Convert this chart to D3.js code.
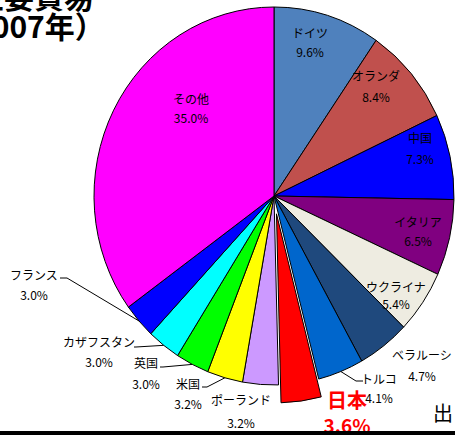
<!DOCTYPE html>
<html><head><meta charset="utf-8">
<script src="https://cdn.jsdelivr.net/npm/d3@7"></script>
<style>body{margin:0;background:#fff}svg{display:block}text{font-family:"Noto Sans CJK JP","Noto Sans",sans-serif}</style>
</head><body><svg id="c" width="455" height="435"></svg>
<script>
// Data
const countries = ["ドイツ","オランダ","中国","イタリア","ウクライナ","ベラルーシ","トルコ","日本","ポーランド","米国","英国","カザフスタン","フランス","その他"];
const shares = [9.6,8.4,7.3,6.5,5.4,4.7,4.1,3.6,3.2,3.2,3.0,3.0,3.0,35.0];
const colors = ["#4F81BD","#C0504D","#0000FF","#800080","#EEECE1","#1F497D","#0066CC","#FF0000","#CC99FF","#FFFF00","#00FF00","#00FFFF","#0000FF","#FF00FF"];
const titleLines = ["ロシアの主要貿易","（2007年）"];
// Layout (label centres, leader elbows)
const labelPos = [[310,32,51],[376,75,96],[420,137,158],[418,221,240],[396,286,303],[422,354,375],[379,378,397],[347,399,424],[241,399,422],[188,383,403],[146,362,383],[99,341,361],[34,274,294],[191,98,117]];
const leaders = {6:[[356,381],[363,381]],9:[[207,387],[202,387]],10:[[163,367],[160,367]],11:[[136,347],[134,347]],12:[[67,278],[60,278]]};

const svg = d3.select("#c");
const cx=274, cy=196, rx=180, ry=189, k=ry/rx, explode=18;
const pie = d3.pie().sort(null).value(d=>d)(shares);
const arc = d3.arc().innerRadius(0).outerRadius(rx);

// title
svg.append("text").attr("x",94).attr("y",8).attr("text-anchor","end")
  .attr("font-size",30).attr("font-weight","bold").text(titleLines[0]);
svg.append("text").attr("x",-56).attr("y",38)
  .attr("font-size",30).attr("font-weight","bold").text(titleLines[1]);

pie.forEach((p,i)=>{
  const mid=(p.startAngle+p.endAngle)/2;
  const dx = i===7 ? Math.sin(mid)*explode : 0;
  const dy = i===7 ? -Math.cos(mid)*explode : 0;
  svg.append("path").attr("d",arc(p))
    .attr("transform",`translate(${cx+dx},${cy+dy}) scale(1,${k})`)
    .attr("fill",colors[i]).attr("stroke","#000").attr("stroke-width",1)
    .attr("vector-effect","non-scaling-stroke");
});

// leaders
Object.keys(leaders).forEach(key=>{
  const i=+key, p=pie[i], mid=(p.startAngle+p.endAngle)/2;
  const pt=[cx+Math.sin(mid)*rx, cy-Math.cos(mid)*ry];
  svg.append("polyline").attr("points",[pt,...leaders[i]].map(q=>q.join(",")).join(" "))
    .attr("fill","none").attr("stroke","#000").attr("stroke-width",1);
});

// labels
countries.forEach((c,i)=>{
  const [x,y1,y2]=labelPos[i];
  const jp = i===7;
  svg.append("text").attr("x",x).attr("y",y1).attr("text-anchor","middle").attr("dominant-baseline","central")
    .attr("font-size",jp?20:12).attr("font-weight",jp?"bold":"normal").attr("fill",jp?"#FF0000":"#000").text(c);
  svg.append("text").attr("x",x).attr("y",y2).attr("text-anchor","middle").attr("dominant-baseline","central")
    .attr("font-size",jp?19:12).attr("font-weight",jp?"bold":"normal").attr("fill",jp?"#FF0000":"#000")
    .text(shares[i].toFixed(1)+"%");
});

svg.append("text").attr("x",433).attr("y",421).attr("font-size",20).text("出");
svg.append("rect").attr("x",0).attr("y",431).attr("width",455).attr("height",4).attr("fill","#000");
</script></body></html>
